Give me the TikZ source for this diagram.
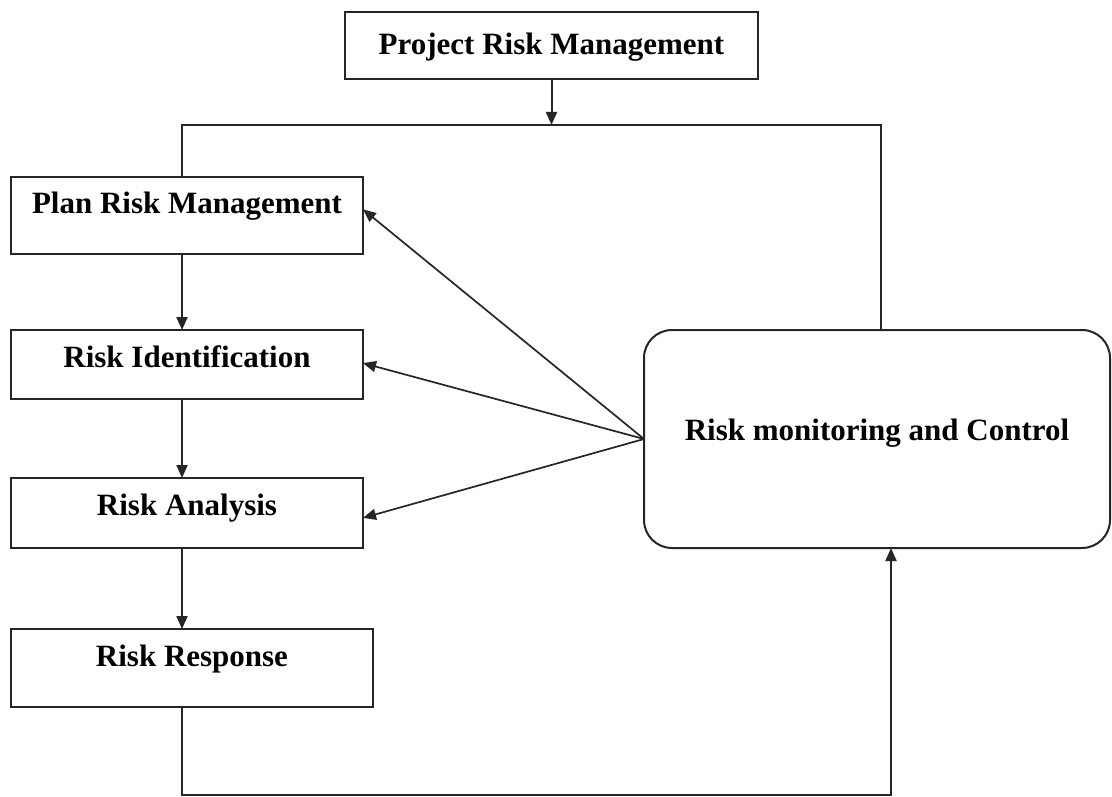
\documentclass[tikz,border=0pt]{standalone}
\usepackage{fontspec}
\setmainfont{Liberation Serif}
\usetikzlibrary{arrows.meta,calc}
\begin{document}
\begin{tikzpicture}[x=1pt,y=-1pt,
  line width=2pt,
  box/.style={draw=black!85, line width=2pt, anchor=north west, inner xsep=0pt, inner ysep=0pt, outer sep=0pt,
    font=\bfseries\fontsize{31}{37}\selectfont, align=center},
  arr/.style={-{Triangle[length=13pt,width=11pt]}},
  conn/.style={draw=black!85, line width=2pt}]
\useasboundingbox (0,0) rectangle (1112,797);
\fill[white] (0,0) rectangle (1112,797);

\node[box, minimum width=413pt, text height=43pt, text depth=24pt] (prm) at (345,12) {Project Risk Management};
\node[box, minimum width=352pt, text height=37pt, text depth=40pt] (plan) at (11,177) {Plan Risk Management};
\node[box, minimum width=352pt, text height=37pt, text depth=32pt] (ident) at (11,330) {Risk Identification};
\node[box, minimum width=352pt, text height=37pt, text depth=33pt] (anal) at (11,478) {Risk Analysis};
\node[box, minimum width=362pt, text height=37pt, text depth=41pt] (resp) at (11,629) {Risk Response};
\node[box, rounded corners=28pt, minimum width=466pt, text height=110pt, text depth=108pt] (rmc) at (644,330) {Risk monitoring and Control};

\coordinate (j) at (551.5,125);
\coordinate (tl) at (182,125);
\coordinate (tr) at (881,125);
\coordinate (bl) at (182,795);
\coordinate (br) at (891,795);

\draw[conn,arr] (prm.south) -- (j);
\draw[conn] (tl |- plan.north) -- (tl) -- (tr) -- (tr |- rmc.north);
\draw[conn,arr] (plan.south -| tl) -- (ident.north -| tl);
\draw[conn,arr] (ident.south -| tl) -- (anal.north -| tl);
\draw[conn,arr] (anal.south -| tl) -- (resp.north -| tl);
\draw[conn,arr] (resp.south -| bl) -- (bl) -- (br) -- (br |- rmc.south);

\draw[conn,arr,line width=1.7pt] (rmc.west) -- ($(plan.north east)!0.42!(plan.south east)$);
\draw[conn,arr,line width=1.7pt] (rmc.west) -- ($(ident.north east)!0.48!(ident.south east)$);
\draw[conn,arr,line width=1.7pt] (rmc.west) -- ($(anal.north east)!0.57!(anal.south east)$);
\end{tikzpicture}
\end{document}
